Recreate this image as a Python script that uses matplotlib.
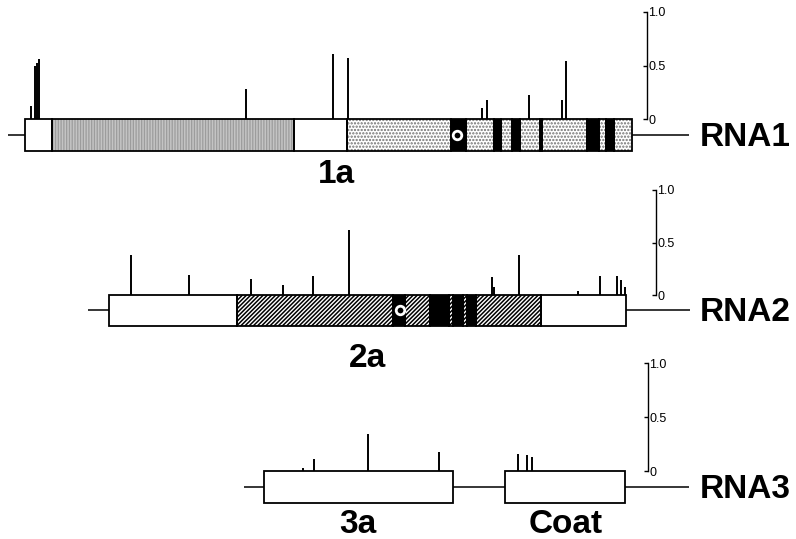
import matplotlib.pyplot as plt

plt.rcParams['font.family'] = ['Liberation Sans', 'DejaVu Sans']
plt.rcParams['hatch.linewidth'] = 1.1

W, H = 796, 539

# genome maps (map units along the x axis)
rna1_line = [8, 689]
rna1_bounds = [25, 52, 294, 347, 451, 466, 494, 501, 512, 520, 540, 542, 587, 599, 606, 614, 632]
rna1_fills = ['open', 'dense', 'open', 'stipple', 'solid', 'stipple', 'solid', 'stipple',
              'solid', 'stipple', 'solid', 'stipple', 'solid', 'stipple', 'solid', 'stipple']
rna1_motif = [457]
rna1_spike_x = [31, 35, 37, 39, 246, 333, 348, 482, 487, 529, 562, 566]
rna1_spike_h = [0.12, 0.50, 0.52, 0.56, 0.28, 0.61, 0.57, 0.10, 0.18, 0.22, 0.18, 0.54]

rna2_line = [88, 690]
rna2_bounds = [109, 237, 393, 405, 430, 449, 453, 463, 467, 476, 541, 626]
rna2_fills = ['open', 'hatch', 'solid', 'hatch', 'solid', 'hatch', 'solid', 'hatch',
              'solid', 'hatch', 'open']
rna2_motif = [400]
rna2_spike_x = [131, 189, 251, 283, 313, 349, 492, 494, 519, 578, 600, 617, 621, 625]
rna2_spike_h = [0.38, 0.19, 0.15, 0.10, 0.18, 0.62, 0.17, 0.08, 0.38, 0.04, 0.18, 0.18, 0.14, 0.08]

rna3_line = [244, 689]
rna3_bounds = [264, 453, 505, 625]
rna3_fills = ['open', None, 'open']
rna3_motif = []
rna3_spike_x = [303, 314, 368, 439, 518, 527, 532]
rna3_spike_h = [0.03, 0.11, 0.34, 0.18, 0.155, 0.15, 0.13]

orf_names = ['1a', '2a', '3a', 'Coat']
orf_x = [336, 368, 358, 566]
rna_names = ['RNA1', 'RNA2', 'RNA3']

styles = {
    'open': dict(facecolor='white', hatch=None, edgecolor='white'),
    'dense': dict(facecolor='#9c9c9c', hatch='||||||', edgecolor='#c4c4c4'),
    'stipple': dict(facecolor='white', hatch='.....', edgecolor='#707070'),
    'hatch': dict(facecolor='white', hatch='////////', edgecolor='black'),
    'solid': dict(facecolor='black', hatch=None, edgecolor='black'),
}

fig = plt.figure(figsize=(W / 100, H / 100), dpi=100)
box_h = 0.295


def draw_track(band, base, scale, axis_x, line, bounds, fills, motif, sx, sh):
    top, bot = band
    ax = fig.add_axes([0, 1 - bot / H, 1, (bot - top) / H])
    ax.set_xlim(0, W)
    ax.set_ylim(-(bot - base) / scale, (base - top) / scale)
    ax.patch.set_visible(False)
    mid = -box_h / 2

    ax.hlines(mid, line[0], line[1], color='black', lw=1.1, zorder=1)
    for i, f in enumerate(fills):
        if f is None:
            continue
        st = styles[f]
        ax.barh(mid, bounds[i + 1] - bounds[i], left=bounds[i], height=box_h,
                color=st['facecolor'], hatch=st['hatch'], edgecolor=st['edgecolor'],
                linewidth=0, zorder=2)
        ax.barh(mid, bounds[i + 1] - bounds[i], left=bounds[i], height=box_h,
                fill=False, edgecolor='black', linewidth=1.3, zorder=3)
    if motif:
        ax.scatter(motif, [mid] * len(motif), s=38, facecolor='black',
                   edgecolor='white', linewidths=2.0, zorder=5)
    ax.vlines(sx, 0, sh, color='black', lw=1.4, zorder=4)

    for s in ['left', 'top', 'bottom']:
        ax.spines[s].set_visible(False)
    ax.spines['right'].set_position(('data', axis_x))
    ax.spines['right'].set_bounds(0, 1)
    ax.spines['right'].set_linewidth(1.0)
    ax.set_xticks([])
    ax.yaxis.tick_right()
    ax.set_yticks([0, 0.5, 1.0])
    ax.set_yticklabels(['0', '0.5', '1.0'])
    ax.tick_params(axis='y', direction='in', length=3, width=1.0, pad=1, labelsize=9)
    return ax


ax1 = draw_track((0, 178), 119, 107, 647, rna1_line, rna1_bounds, rna1_fills,
                 rna1_motif, rna1_spike_x, rna1_spike_h)
ax2 = draw_track((178, 358), 295, 105, 656, rna2_line, rna2_bounds, rna2_fills,
                 rna2_motif, rna2_spike_x, rna2_spike_h)
ax3 = draw_track((358, 539), 471, 108, 648, rna3_line, rna3_bounds, rna3_fills,
                 rna3_motif, rna3_spike_x, rna3_spike_h)

lab = dict(fontsize=24, fontweight='bold', ha='center', va='baseline')
ax1.text(orf_x[0], -0.60, orf_names[0], **lab)
ax2.text(orf_x[1], -0.69, orf_names[1], **lab)
ax3.text(orf_x[2], -0.575, orf_names[2], **lab)
ax3.text(orf_x[3], -0.575, orf_names[3], **lab)

for ax, name, sc in zip([ax1, ax2, ax3], rna_names, [107, 105, 108]):
    ax.text(700, -box_h / 2 - 11 / sc, name, fontsize=24, fontweight='bold',
            ha='left', va='baseline')

fig.savefig('out.png', dpi=100)
